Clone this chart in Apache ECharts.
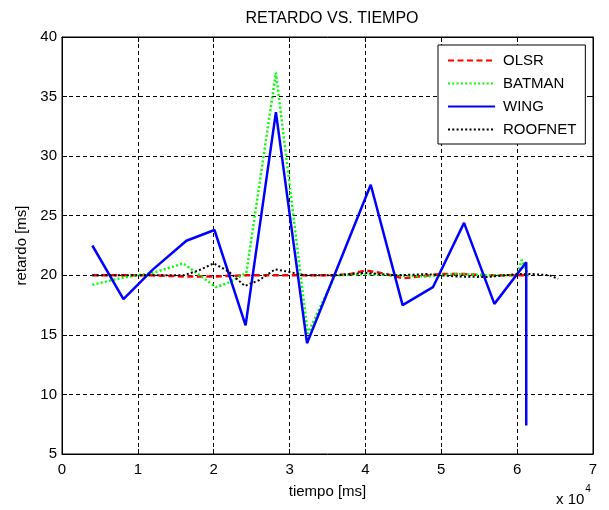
<!DOCTYPE html>
<html>
<head>
<meta charset="utf-8">
<script src="https://cdn.jsdelivr.net/npm/echarts@6/dist/echarts.min.js"></script>
<style>
  html, body { margin: 0; padding: 0; background: #fff; }
  #chart { width: 609px; height: 510px; }
</style>
</head>
<body>
<div id="chart"></div>
<script>
// Delay (ms) measured over time (ms) for four mesh routing protocols.
var seriesNames = ['OLSR', 'BATMAN', 'WING', 'ROOFNET'];

var olsrTime = [4000, 8000, 12000, 16000, 20000, 24000, 28000, 32000, 36000, 38000, 40000, 42000, 44000, 45000, 47000, 50000, 53000, 56000, 59000, 61500];
var olsrDelay = [20.0, 20.0, 20.0, 19.9, 19.9, 20.0, 20.0, 20.0, 20.0, 20.1, 20.4, 20.2, 19.9, 19.75, 19.9, 20.1, 20.1, 20.0, 20.0, 20.0];

var batmanTime = [4000, 8000, 12000, 16000, 20300, 22000, 24300, 28200, 32400, 36000, 40000, 44000, 48000, 52000, 56000, 60000, 60600, 61500];
var batmanDelay = [19.2, 19.8, 20.2, 21.0, 19.0, 19.4, 20.2, 37.0, 15.1, 20.0, 20.1, 20.0, 19.9, 20.1, 20.0, 20.0, 21.3, 20.0];

var wingTime = [4000, 8100, 12000, 16400, 20100, 24200, 28200, 32300, 40700, 44900, 48900, 53000, 57000, 61200, 61200];
var wingDelay = [22.5, 18.0, 20.5, 22.9, 23.8, 15.8, 33.7, 14.3, 27.6, 17.5, 19.0, 24.4, 17.6, 21.1, 7.4];

var roofnetTime = [4000, 8000, 12000, 16000, 18000, 20000, 22000, 24100, 26000, 28100, 29800, 32000, 36000, 40000, 44000, 48000, 52000, 56000, 60000, 62000, 64300, 65400];
var roofnetDelay = [20.0, 20.0, 20.0, 20.0, 20.4, 21.0, 20.3, 19.1, 19.6, 20.5, 20.3, 20.0, 20.0, 20.2, 20.0, 20.1, 19.9, 19.85, 20.1, 20.1, 20.0, 19.7];

var xTicks = [0, 1, 2, 3, 4, 5, 6, 7];   // in units of 10^4 ms
var yTicks = [5, 10, 15, 20, 25, 30, 35, 40];

function pairs(xs, ys) {
  return xs.map(function (x, i) { return [x, ys[i]]; });
}

var FONT = 'Liberation Sans, Arial, Helvetica, sans-serif';
var gridDash = [4, 3];

var chart = echarts.init(document.getElementById('chart'), null, { renderer: 'canvas' });

chart.setOption({
  backgroundColor: '#ffffff',
  animation: false,
  title: {
    text: 'RETARDO VS. TIEMPO',
    left: 327, top: 6, textAlign: 'center',
    textStyle: { fontFamily: FONT, fontSize: 16, fontWeight: 'normal', color: '#000' }
  },
  grid: {
    left: 62, top: 37, width: 531, height: 417,
    show: true, borderColor: '#000', borderWidth: 1, backgroundColor: '#fff'
  },
  legend: {
    orient: 'vertical',
    left: 438, top: 45,
    padding: [8, 9, 7, 9],
    itemGap: 8,
    itemWidth: 47, itemHeight: 14,
    backgroundColor: '#fff',
    borderColor: '#000', borderWidth: 1, borderRadius: 0,
    itemStyle: { opacity: 0 },
    textStyle: { fontFamily: FONT, fontSize: 15, color: '#000', padding: [0, 0, 0, 3] },
    data: seriesNames
  },
  xAxis: [{
    type: 'value',
    min: xTicks[0] * 10000, max: xTicks[xTicks.length - 1] * 10000, interval: 10000,
    name: 'tiempo [ms]', nameLocation: 'middle', nameGap: 30,
    nameTextStyle: { fontFamily: FONT, fontSize: 15, color: '#000' },
    axisLine: { show: true, onZero: false, lineStyle: { color: '#000', width: 1 } },
    axisTick: { show: true, inside: true, length: 5, lineStyle: { color: '#000' } },
    axisLabel: {
      fontFamily: FONT, fontSize: 15, color: '#000', margin: 8,
      formatter: function (v) { return String(v / 10000); }
    },
    splitLine: { show: true, lineStyle: { color: '#000', type: gridDash, width: 1 } }
  }, {
    type: 'value', position: 'top',
    min: xTicks[0] * 10000, max: xTicks[xTicks.length - 1] * 10000, interval: 10000,
    axisLine: { show: true, onZero: false, lineStyle: { color: '#000' } },
    axisTick: { show: true, inside: true, length: 5, lineStyle: { color: '#000' } },
    axisLabel: { show: false }, splitLine: { show: false }
  }],
  yAxis: [{
    type: 'value',
    min: yTicks[0], max: yTicks[yTicks.length - 1], interval: 5,
    name: 'retardo [ms]', nameLocation: 'middle', nameGap: 33, nameRotate: 90,
    nameTextStyle: { fontFamily: FONT, fontSize: 15, color: '#000' },
    axisLine: { show: true, onZero: false, lineStyle: { color: '#000', width: 1 } },
    axisTick: { show: true, inside: true, length: 5, lineStyle: { color: '#000' } },
    axisLabel: { fontFamily: FONT, fontSize: 15, color: '#000', margin: 5 },
    splitLine: { show: true, lineStyle: { color: '#000', type: gridDash, width: 1 } }
  }, {
    type: 'value', position: 'right',
    min: yTicks[0], max: yTicks[yTicks.length - 1], interval: 5,
    axisLine: { show: true, onZero: false, lineStyle: { color: '#000' } },
    axisTick: { show: true, inside: true, length: 5, lineStyle: { color: '#000' } },
    axisLabel: { show: false }, splitLine: { show: false }
  }],
  graphic: [{
    type: 'text', left: 556, top: 484, z: 10,
    style: {
      text: '{b|x 10}{s|4}',
      rich: {
        b: { fontFamily: FONT, fontSize: 15, fill: '#000', verticalAlign: 'bottom', padding: [8, 1, 0, 0] },
        s: { fontFamily: FONT, fontSize: 10, fill: '#000', verticalAlign: 'top' }
      }
    }
  }],
  series: [{
    name: 'OLSR', type: 'line', symbol: 'none', z: 3,
    data: pairs(olsrTime, olsrDelay),
    itemStyle: { color: '#ff0000' },
    lineStyle: { color: '#ff0000', width: 2.5, type: [6, 3.5] }
  }, {
    name: 'BATMAN', type: 'line', symbol: 'none', z: 4,
    data: pairs(batmanTime, batmanDelay),
    itemStyle: { color: '#00ff00' },
    lineStyle: { color: '#00ff00', width: 2.5, type: [2, 2.3] }
  }, {
    name: 'WING', type: 'line', symbol: 'none', z: 5,
    data: pairs(wingTime, wingDelay),
    itemStyle: { color: '#0000ff' },
    lineStyle: { color: '#0000ff', width: 2.5, type: 'solid' }
  }, {
    name: 'ROOFNET', type: 'line', symbol: 'none', z: 6,
    data: pairs(roofnetTime, roofnetDelay),
    itemStyle: { color: '#000000' },
    lineStyle: { color: '#000000', width: 2, type: [2, 2.3] }
  }]
});
</script>
</body>
</html>
